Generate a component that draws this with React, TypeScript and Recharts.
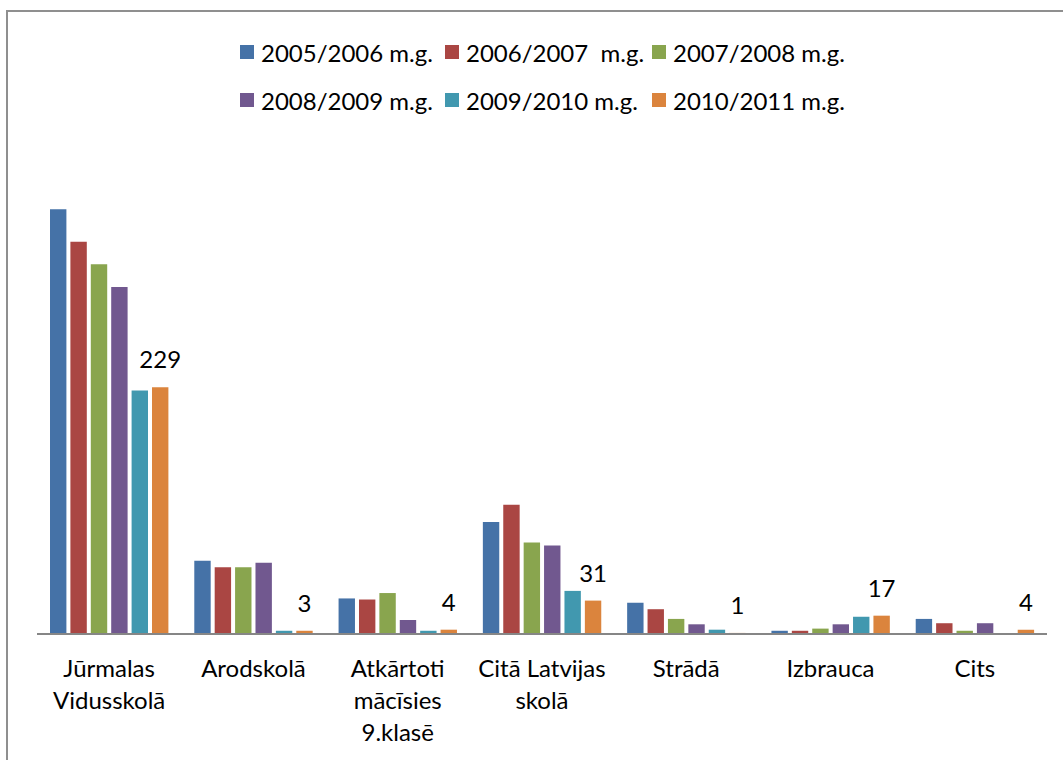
import React from 'react';
import { BarChart, Bar, XAxis, YAxis, Legend, LabelList } from 'recharts';

const categories = [
  'Jūrmalas Vidusskolā',
  'Arodskolā',
  'Atkārtoti mācīsies 9.klasē',
  'Citā Latvijas skolā',
  'Strādā',
  'Izbrauca',
  'Cits',
];
const categoryLines = [
  ['Jūrmalas', 'Vidusskolā'],
  ['Arodskolā'],
  ['Atkārtoti', 'mācīsies', '9.klasē'],
  ['Citā Latvijas', 'skolā'],
  ['Strādā'],
  ['Izbrauca'],
  ['Cits'],
];
const seriesNames = [
  '2005/2006 m.g.',
  '2006/2007  m.g.',
  '2007/2008 m.g.',
  '2008/2009 m.g.',
  '2009/2010 m.g.',
  '2010/2011 m.g.',
];
const y2005 = [394, 68, 33, 104, 29, 3, 14];
const y2006 = [364, 62, 32, 120, 23, 3, 10];
const y2007 = [343, 62, 38, 85, 14, 5, 3];
const y2008 = [322, 66, 13, 82, 9, 9, 10];
const y2009 = [226, 3, 3, 40, 4, 16, 0];
const y2010 = [229, 3, 4, 31, 1, 17, 4];
const colors = ['#4572A7', '#AA4643', '#89A54E', '#71588F', '#4198AF', '#DB843D'];

const seriesValues = [y2005, y2006, y2007, y2008, y2009, y2010];
const keys = ['s0', 's1', 's2', 's3', 's4', 's5'];
const data = categories.map((c, i) => {
  const row: any = { name: c, lines: categoryLines[i] };
  keys.forEach((k, j) => (row[k] = seriesValues[j][i]));
  return row;
});

const FONT = 'Lato, "Open Sans", sans-serif';
const FS = 24;

const CategoryTick = (props: any) => {
  const { x, y, index } = props;
  const lines = categoryLines[index] || [];
  return (
    <text x={x} y={y + 43} textAnchor="middle" fill="#000" fontFamily={FONT} fontSize={FS}>
      {lines.map((l, i) => (
        <tspan key={i} x={x} dy={i === 0 ? 0 : 32}>
          {l}
        </tspan>
      ))}
    </text>
  );
};

const LegendContent = (props: any) => {
  const payload = props.payload || [];
  const rows = [payload.slice(0, 3), payload.slice(3, 6)];
  const widths = [205, 207, 200];
  return (
    <div style={{ width: 1063, fontFamily: FONT, fontSize: FS, color: '#000' }}>
      {rows.map((row: any[], ri: number) => (
        <div key={ri} style={{ display: 'flex', height: 48, alignItems: 'center', paddingLeft: 240 }}>
          {row.map((p: any, i: number) => (
            <div key={i} style={{ width: widths[i], display: 'flex', alignItems: 'center' }}>
              <span style={{ width: 14, height: 14, background: p.color, display: 'inline-block', marginRight: 7 }} />
              <span style={{ whiteSpace: 'pre' }}>{p.value}</span>
            </div>
          ))}
        </div>
      ))}
    </div>
  );
};

export default function App() {
  return (
    <div style={{ position: 'fixed', left: 0, top: 0, width: 1063, height: 760, background: '#fff', overflow: 'hidden' }}>
      <div
        style={{
          position: 'absolute',
          left: 6,
          top: 10,
          width: 2000,
          height: 2000,
          borderLeft: '2px solid #8f8f8f',
          borderTop: '2px solid #8f8f8f',
        }}
      />
      <div style={{ position: 'absolute', left: 0, top: 0 }}>
        <BarChart
          width={1063}
          height={760}
          data={data}
          margin={{ top: 149, right: 16, bottom: 0, left: 37 }}
          barGap={4}
          barSize={16.4}
        >
          <XAxis
            dataKey="name"
            height={126}
            interval={0}
            tickLine={false}
            tickSize={0}
            tickMargin={0}
            axisLine={{ stroke: '#868686', strokeWidth: 2 }}
            tick={<CategoryTick />}
          />
          <YAxis hide domain={[0, 450]} />
          <Legend
            verticalAlign="middle"
            align="center"
            layout="horizontal"
            content={<LegendContent />}
            wrapperStyle={{ position: 'absolute', top: 28, left: 0, width: 1063 }}
          />
          {keys.map((k, j) => (
            <Bar key={k} dataKey={k} name={seriesNames[j]} fill={colors[j]} isAnimationActive={false}>
              {j === 5 && (
                <LabelList dataKey={k} position="top" offset={19} fill="#000" fontFamily={FONT} fontSize={FS} />
              )}
            </Bar>
          ))}
        </BarChart>
      </div>
    </div>
  );
}
